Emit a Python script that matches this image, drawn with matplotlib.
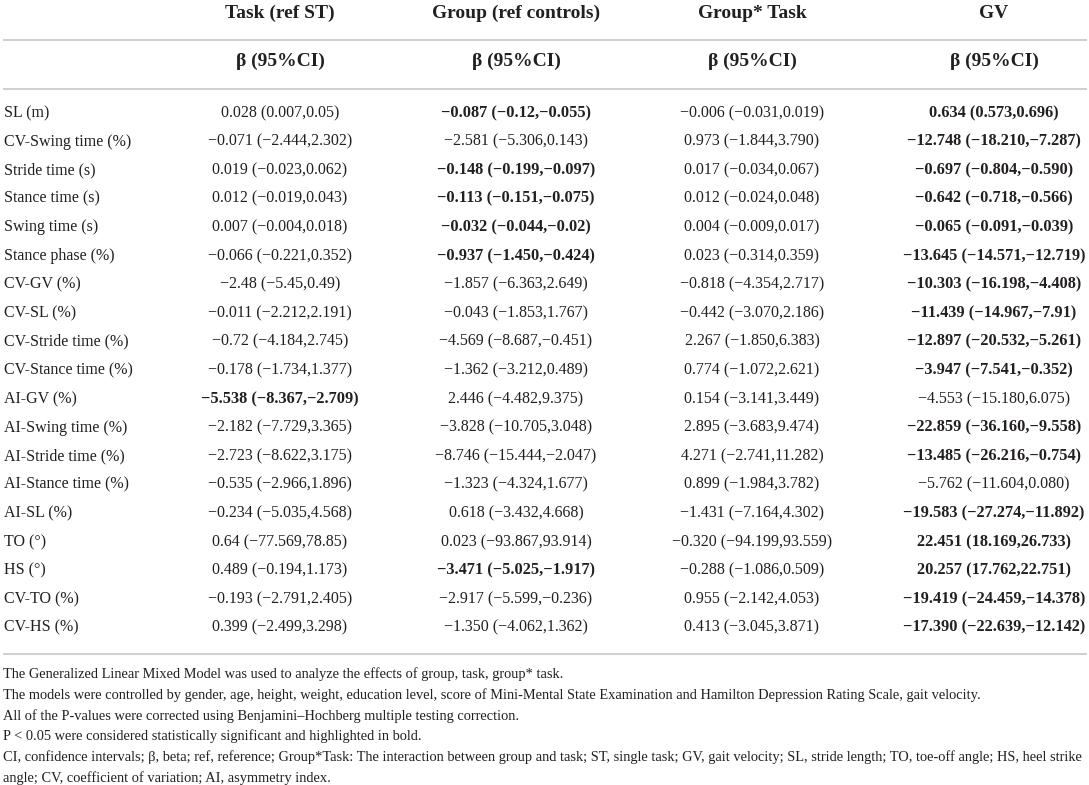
import matplotlib
matplotlib.use("Agg")
import matplotlib.pyplot as plt

# ---------------- data ----------------
col_headers = ["Task (ref ST)", "Group (ref controls)", "Group* Task", "GV"]
sub_header = "β (95%CI)"

variables = ["SL (m)", "CV-Swing time (%)", "Stride time (s)", "Stance time (s)",
             "Swing time (s)", "Stance phase (%)", "CV-GV (%)", "CV-SL (%)",
             "CV-Stride time (%)", "CV-Stance time (%)", "AI-GV (%)",
             "AI-Swing time (%)", "AI-Stride time (%)", "AI-Stance time (%)",
             "AI-SL (%)", "TO (°)", "HS (°)", "CV-TO (%)", "CV-HS (%)"]

task_vals = ["0.028 (0.007,0.05)", "-0.071 (-2.444,2.302)", "0.019 (-0.023,0.062)",
             "0.012 (-0.019,0.043)", "0.007 (-0.004,0.018)", "-0.066 (-0.221,0.352)",
             "-2.48 (-5.45,0.49)", "-0.011 (-2.212,2.191)", "-0.72 (-4.184,2.745)",
             "-0.178 (-1.734,1.377)", "-5.538 (-8.367,-2.709)", "-2.182 (-7.729,3.365)",
             "-2.723 (-8.622,3.175)", "-0.535 (-2.966,1.896)", "-0.234 (-5.035,4.568)",
             "0.64 (-77.569,78.85)", "0.489 (-0.194,1.173)", "-0.193 (-2.791,2.405)",
             "0.399 (-2.499,3.298)"]
task_bold = [0, 0, 0, 0, 0, 0, 0, 0, 0, 0, 1, 0, 0, 0, 0, 0, 0, 0, 0]

group_vals = ["-0.087 (-0.12,-0.055)", "-2.581 (-5.306,0.143)", "-0.148 (-0.199,-0.097)",
              "-0.113 (-0.151,-0.075)", "-0.032 (-0.044,-0.02)", "-0.937 (-1.450,-0.424)",
              "-1.857 (-6.363,2.649)", "-0.043 (-1.853,1.767)", "-4.569 (-8.687,-0.451)",
              "-1.362 (-3.212,0.489)", "2.446 (-4.482,9.375)", "-3.828 (-10.705,3.048)",
              "-8.746 (-15.444,-2.047)", "-1.323 (-4.324,1.677)", "0.618 (-3.432,4.668)",
              "0.023 (-93.867,93.914)", "-3.471 (-5.025,-1.917)", "-2.917 (-5.599,-0.236)",
              "-1.350 (-4.062,1.362)"]
group_bold = [1, 0, 1, 1, 1, 1, 0, 0, 0, 0, 0, 0, 0, 0, 0, 0, 1, 0, 0]

inter_vals = ["-0.006 (-0.031,0.019)", "0.973 (-1.844,3.790)", "0.017 (-0.034,0.067)",
              "0.012 (-0.024,0.048)", "0.004 (-0.009,0.017)", "0.023 (-0.314,0.359)",
              "-0.818 (-4.354,2.717)", "-0.442 (-3.070,2.186)", "2.267 (-1.850,6.383)",
              "0.774 (-1.072,2.621)", "0.154 (-3.141,3.449)", "2.895 (-3.683,9.474)",
              "4.271 (-2.741,11.282)", "0.899 (-1.984,3.782)", "-1.431 (-7.164,4.302)",
              "-0.320 (-94.199,93.559)", "-0.288 (-1.086,0.509)", "0.955 (-2.142,4.053)",
              "0.413 (-3.045,3.871)"]
inter_bold = [0] * 19

gv_vals = ["0.634 (0.573,0.696)", "-12.748 (-18.210,-7.287)", "-0.697 (-0.804,-0.590)",
           "-0.642 (-0.718,-0.566)", "-0.065 (-0.091,-0.039)", "-13.645 (-14.571,-12.719)",
           "-10.303 (-16.198,-4.408)", "-11.439 (-14.967,-7.91)", "-12.897 (-20.532,-5.261)",
           "-3.947 (-7.541,-0.352)", "-4.553 (-15.180,6.075)", "-22.859 (-36.160,-9.558)",
           "-13.485 (-26.216,-0.754)", "-5.762 (-11.604,0.080)", "-19.583 (-27.274,-11.892)",
           "22.451 (18.169,26.733)", "20.257 (17.762,22.751)", "-19.419 (-24.459,-14.378)",
           "-17.390 (-22.639,-12.142)"]
gv_bold = [1, 1, 1, 1, 1, 1, 1, 1, 1, 1, 0, 1, 1, 0, 1, 1, 1, 1, 1]

footnotes = [
    "The Generalized Linear Mixed Model was used to analyze the effects of group, task, group* task.",
    "The models were controlled by gender, age, height, weight, education level, score of Mini-Mental State Examination and Hamilton Depression Rating Scale, gait velocity.",
    "All of the P-values were corrected using Benjamini\u2013Hochberg multiple testing correction.",
    "P < 0.05 were considered statistically significant and highlighted in bold.",
    "CI, confidence intervals; \u03b2, beta; ref, reference; Group*Task: The interaction between group and task; ST, single task; GV, gait velocity; SL, stride length; TO, toe-off angle; HS, heel strike",
    "angle; CV, coefficient of variation; AI, asymmetry index.",
]

# ---------------- layout ----------------
W, H = 1089, 785
fig = plt.figure(figsize=(W / 100, H / 100), dpi=100)
ax = fig.add_axes([0, 0, 1, 1])
ax.set_xlim(0, W)
ax.set_ylim(H, 0)
ax.axis("off")

FONT = "Liberation Serif"
TXT = "#231f20"
LINE = "#cfcfcf"

col_x = [280, 516, 752, 994]
y_head, y_sub = 13, 61
row_y0, row_dy = 113, 28.6
line_ys = [40, 89, 654]

for y in line_ys:
    ax.hlines(y, 3, 1087, color=LINE, lw=1.4)

for x, h in zip(col_x, col_headers):
    ax.text(x, y_head, h, ha="center", va="center", fontsize=14,
            fontweight="bold", family=FONT, color=TXT)
    ax.text(x, y_sub, sub_header, ha="center", va="center", fontsize=14,
            fontweight="bold", family=FONT, color=TXT)

cols = [(task_vals, task_bold), (group_vals, group_bold),
        (inter_vals, inter_bold), (gv_vals, gv_bold)]

for i, var in enumerate(variables):
    y = row_y0 + i * row_dy
    ax.text(4, y, var, ha="left", va="center", fontsize=11.5, family=FONT, color=TXT)
    for x, (vals, bolds) in zip(col_x, cols):
        s = vals[i].replace("-", "\u2212")
        ax.text(x, y, s, ha="center", va="center",
                fontsize=11.8 if bolds[i] else 11.5, family=FONT,
                fontweight="bold" if bolds[i] else "normal", color=TXT)

foot_y0, foot_dy = 674.5, 20.7
for j, f in enumerate(footnotes):
    ax.text(3, foot_y0 + j * foot_dy, f, ha="left", va="center", fontsize=10.4,
            family=FONT, color=TXT)

fig.savefig("out.png", dpi=100, facecolor="white")
